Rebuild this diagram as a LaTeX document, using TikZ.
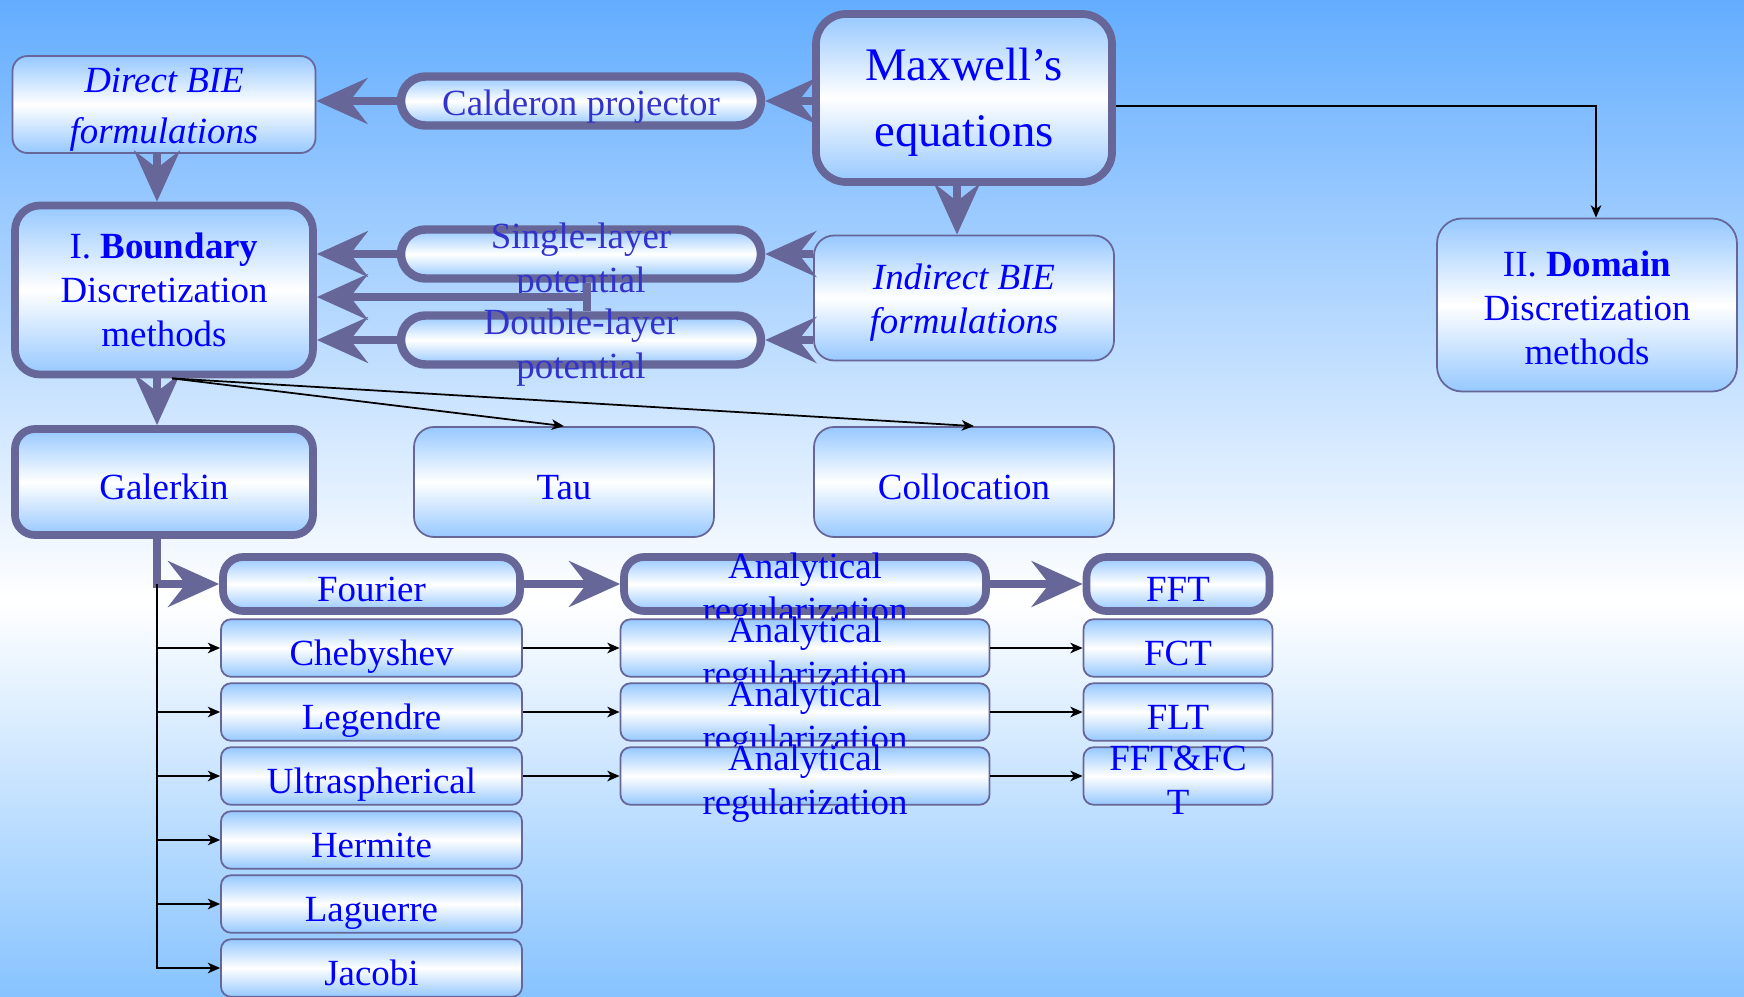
\documentclass[tikz,border=0pt]{standalone}
\usepackage{fontspec}
\setmainfont{Liberation Serif}
\usepackage{tikz}
\usetikzlibrary{arrows.meta}

\definecolor{bgtop}{RGB}{99,173,255}
\definecolor{bgbot}{RGB}{135,195,255}
\definecolor{boxblue}{RGB}{150,200,255}
\definecolor{bord}{RGB}{102,102,153}
\definecolor{txtblue}{RGB}{0,0,255}
\definecolor{pilltxt}{RGB}{51,51,204}

\newcommand{\squeeze}[1]{\raisebox{-0.48em}[0pt][0pt]{\begin{tabular}{@{}c@{}}#1\end{tabular}}}

\begin{document}
\begin{tikzpicture}[
    box/.style={draw=bord, line width=0.5pt, rounded corners=2mm, top color=boxblue, bottom color=boxblue, middle color=white, text=txtblue, align=center, inner sep=0pt, font=\fontsize{10.5}{12.5}\selectfont},
    bold box/.style={box, line width=2.2pt},
    one line/.style={text height=10pt, text depth=0pt},
    pill/.style={box, line width=2.4pt, rounded corners=2.45mm, text=pilltxt, minimum width=3.6cm, minimum height=0.49cm},
    row box/.style={box, rounded corners=1mm, minimum height=0.575cm},
    fat/.style={draw=bord, line width=2.2pt, -{Stealth[length=14.5pt,width=13pt,inset=5pt]}},
    link/.style={draw=black, line width=0.5pt, -{Stealth[length=3.5pt,width=3pt,inset=1pt]}}]
    \useasboundingbox (0,0) rectangle (17.44,-9.96);
    \shade [top color=bgtop, bottom color=white] (0,0) rectangle (17.44,-6.0);
    \shade [top color=white, bottom color=bgbot] (0,-6.0) rectangle (17.44,-9.96);

    \node [bold box, minimum width=2.96cm, minimum height=1.68cm, rounded corners=3mm, font=\fontsize{13.3}{19}\selectfont] (max) at (9.64,-0.98) {\rule{0pt}{11.6pt}Maxwell's\\equations};
    \node [box, minimum width=3.03cm, minimum height=0.97cm, rounded corners=1.5mm] (dbie) at (1.64,-1.045) {\rule{0pt}{9.8pt}\textit{Direct BIE}\\[2pt]\textit{formulations}};
    \node [pill, text height=8.5pt, text depth=0pt] (cal) at (5.81,-1.01) {Calderon projector};
    \node [box, minimum width=3.0cm, minimum height=1.25cm] (ind) at (9.64,-2.98) {\rule{0pt}{9.8pt}\textit{Indirect BIE}\\\textit{formulations}};
    \node [box, minimum width=3.0cm, minimum height=1.73cm, rounded corners=2.5mm] (dom) at (15.87,-3.05) {\rule{0pt}{9.1pt}II. \textbf{Domain}\\Discretization\\methods};
    \node [bold box, minimum width=2.98cm, minimum height=1.69cm, rounded corners=2.5mm] (bnd) at (1.64,-2.90) {I. \textbf{Boundary}\\Discretization\\methods};
    \node [pill] (slp) at (5.81,-2.54) {\squeeze{Single-layer\\potential}};
    \node [pill] (dlp) at (5.81,-3.40) {\squeeze{Double-layer\\potential}};
    \node [bold box, one line, minimum width=2.98cm, minimum height=1.06cm] (gal) at (1.64,-4.82) {Galerkin};
    \node [box, one line, minimum width=3.0cm, minimum height=1.10cm] (tau) at (5.64,-4.82) {Tau};
    \node [box, one line, minimum width=3.0cm, minimum height=1.10cm] (col) at (9.64,-4.82) {Collocation};

    \node [row box, bold box, one line, minimum width=2.97cm, minimum height=0.54cm] (fou) at (3.715,-5.84) {Fourier};
    \node [row box, one line, minimum width=3.01cm] (che) at (3.715,-6.48) {Chebyshev};
    \node [row box, one line, minimum width=3.01cm] (leg) at (3.715,-7.12) {Legendre};
    \node [row box, one line, minimum width=3.01cm] (ult) at (3.715,-7.76) {Ultraspherical};
    \node [row box, one line, minimum width=3.01cm] (her) at (3.715,-8.40) {Hermite};
    \node [row box, one line, minimum width=3.01cm] (lag) at (3.715,-9.04) {Laguerre};
    \node [row box, one line, minimum width=3.01cm] (jac) at (3.715,-9.68) {Jacobi};

    \node [row box, bold box, minimum width=3.62cm, minimum height=0.54cm] (an1) at (8.05,-5.84) {\squeeze{Analytical\\regularization}};
    \node [row box, minimum width=3.69cm] (an2) at (8.05,-6.48) {\squeeze{Analytical\\regularization}};
    \node [row box, minimum width=3.69cm] (an3) at (8.05,-7.12) {\squeeze{Analytical\\regularization}};
    \node [row box, minimum width=3.69cm] (an4) at (8.05,-7.76) {\squeeze{Analytical\\regularization}};

    \node [row box, bold box, one line, minimum width=1.83cm, minimum height=0.54cm] (fft) at (11.78,-5.84) {FFT};
    \node [row box, one line, minimum width=1.89cm] (fct) at (11.78,-6.48) {FCT};
    \node [row box, one line, minimum width=1.89cm] (flt) at (11.78,-7.12) {FLT};
    \node [row box, minimum width=1.89cm] (fff) at (11.78,-7.76) {\squeeze{FFT\&FC\\T}};

    \draw [fat] (max.west |- cal.east) -- (cal.east);
    \draw [fat] (cal.west) -- (cal.west -| dbie.east);
    \draw [fat] ([xshift=-0.7mm]dbie.south) -- ([xshift=-0.7mm]dbie.south |- bnd.north);
    \draw [fat] ([xshift=-0.7mm]max.south) -- ([xshift=-0.7mm]max.south |- ind.north);
    \draw [fat] (ind.west |- slp.east) -- (slp.east);
    \draw [fat] (ind.west |- dlp.east) -- (dlp.east);
    \draw [fat] (slp.west) -- (slp.west -| bnd.east);
    \draw [fat] (dlp.west) -- (dlp.west -| bnd.east);
    \draw [bord, line width=2.2pt] ([xshift=0.6mm]slp.south) -- ([xshift=0.6mm]dlp.north);
    \draw [fat] ([xshift=0.6mm]slp.south) |- ([yshift=-0.7mm]bnd.east);
    \draw [fat] ([xshift=-0.7mm]bnd.south) -- ([xshift=-0.7mm]bnd.south |- gal.north);
    \draw [fat] ([xshift=-0.7mm]gal.south) |- (fou.west);
    \draw [fat] (fou) -- (an1);
    \draw [fat] (an1) -- (fft);

    \draw [link] ([yshift=-0.8mm]max.east) -| ([xshift=0.9mm]dom.north);
    \draw [link] ([xshift=0.8mm]bnd.south) -- (tau.north);
    \draw [link] ([xshift=0.8mm]bnd.south) -- ([xshift=1mm]col.north);

    \coordinate (trunk) at ([xshift=-0.7mm]gal.south |- fou.west);
    \draw [link] (trunk) |- (che.west);
    \draw [link] (trunk) |- (leg.west);
    \draw [link] (trunk) |- (ult.west);
    \draw [link] (trunk) |- (her.west);
    \draw [link] (trunk) |- (lag.west);
    \draw [link] (trunk) |- (jac.west);
    \draw [link] (che) -- (an2);
    \draw [link] (leg) -- (an3);
    \draw [link] (ult) -- (an4);
    \draw [link] (an2) -- (fct);
    \draw [link] (an3) -- (flt);
    \draw [link] (an4) -- (fff);
\end{tikzpicture}
\end{document}
